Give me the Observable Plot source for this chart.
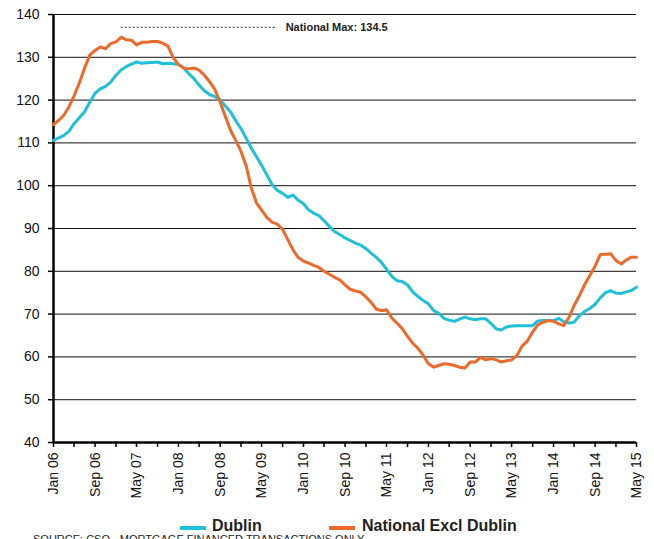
<!DOCTYPE html>
<html>
<head>
<meta charset="utf-8">
<script src="https://cdn.jsdelivr.net/npm/d3@7"></script>
<script src="https://cdn.jsdelivr.net/npm/@observablehq/plot@0.6"></script>
<style>
  html, body { margin: 0; padding: 0; background: #fff; overflow: hidden; }
  #wrap { position: relative; width: 654px; height: 539px; font-family: "Liberation Sans", Arial, sans-serif; }
  #chart { position: absolute; left: 0; top: 0; }
  .leg { position: absolute; top: 517px; font-weight: bold; font-size: 16px; color: #222; white-space: nowrap; }
  .sw { position: absolute; height: 4px; top: 526px; }
  #src { position: absolute; left: 33px; top: 533px; font-size: 11px; color: #222; white-space: nowrap; }
</style>
</head>
<body>
<div id="wrap">
  <div id="chart"></div>
  <div class="sw" id="sw1" style="left:180px;width:26px;"></div>
  <div class="leg" style="left:212px;" id="lg1"></div>
  <div class="sw" id="sw2" style="left:329px;width:26px;"></div>
  <div class="leg" style="left:362px;" id="lg2"></div>
  <div id="src">SOURCE: CSO - MORTGAGE FINANCED TRANSACTIONS ONLY</div>
</div>
<script>
// ---- data (monthly, Jan 2006 .. May 2015) ----
const startYear = 2006;
const seriesNames = ["Dublin", "National Excl Dublin"];
const seriesColors = ["#1ec0da", "#ee6a2b"];

const dublin = [
  110.6,111.2,111.7,112.7,114.5,115.9,117.2,119.5,121.6,122.6,123.2,124.2,
  125.8,127.1,127.8,128.4,128.9,128.6,128.7,128.8,128.9,128.5,128.6,128.5,
  128.3,127.5,126.2,125.0,123.5,122.2,121.3,120.8,120.1,118.6,117.2,115.2,
  113.3,111.0,108.8,106.8,104.8,102.5,100.3,98.9,98.2,97.3,97.8,96.6,
  95.8,94.3,93.6,93.0,91.8,90.5,89.3,88.6,87.8,87.2,86.6,86.1,
  85.3,84.2,83.3,82.1,80.5,78.8,77.8,77.6,76.8,75.2,74.1,73.2,
  72.4,70.8,70.2,69.0,68.6,68.3,68.8,69.3,68.9,68.7,68.9,68.9,
  67.8,66.5,66.3,67.0,67.2,67.3,67.3,67.3,67.3,68.4,68.5,68.5,
  68.5,69.0,68.2,67.9,68.1,69.6,70.6,71.3,72.3,73.8,75.0,75.5,
  74.9,74.8,75.2,75.5,76.3
];
const nationalExDublin = [
  114.3,115.3,116.4,118.4,121.0,124.0,127.4,130.5,131.6,132.4,132.0,133.2,
  133.6,134.7,134.1,134.0,132.9,133.5,133.5,133.7,133.7,133.3,132.6,130.0,
  128.3,127.5,127.3,127.5,127.0,125.8,124.3,122.5,119.5,116.2,112.9,110.6,
  108.0,104.5,99.6,96.0,94.3,92.6,91.5,91.0,89.8,87.4,85.0,83.2,
  82.4,81.9,81.4,80.9,80.0,79.3,78.6,78.0,76.8,75.8,75.4,75.1,
  74.0,72.7,71.2,70.8,71.0,69.1,67.9,66.6,64.8,63.2,62.0,60.4,
  58.4,57.6,58.0,58.4,58.3,58.0,57.6,57.4,58.8,58.8,59.9,59.3,
  59.6,59.3,58.8,59.1,59.3,60.3,62.5,63.7,65.8,67.5,68.1,68.5,
  68.3,67.7,67.3,69.2,72.0,74.3,76.8,79.0,81.2,83.9,84.0,84.1,
  82.5,81.7,82.6,83.3,83.3
];
const yTicks = [40,50,60,70,80,90,100,110,120,130,140];
const monthNames = ["Jan","Feb","Mar","Apr","May","Jun","Jul","Aug","Sep","Oct","Nov","Dec"];
const nationalMaxLabel = "National Max: 134.5";

// ---- build table ----
const dateOf = i => new Date(Date.UTC(startYear, i, 1));
const rows = [];
dublin.forEach((v, i) => rows.push({date: dateOf(i), value: v, series: seriesNames[0]}));
nationalExDublin.forEach((v, i) => rows.push({date: dateOf(i), value: v, series: seriesNames[1]}));
const n = dublin.length;
const tickDates = d3.range(0, n, 4).map(dateOf);
const labelDates = d3.range(0, n, 8).map(dateOf);
const fmt = d => monthNames[d.getUTCMonth()] + " " + String(d.getUTCFullYear() % 100).padStart(2, "0");

const chart = Plot.plot({
  width: 654,
  height: 505,
  marginLeft: 53,
  marginRight: 18,
  marginTop: 14,
  marginBottom: 63,
  style: {fontFamily: "'Liberation Sans', Arial, sans-serif", fontSize: "13px", color: "#111", background: "#fff"},
  x: {type: "utc", domain: [dateOf(0), dateOf(n - 1)]},
  y: {domain: [40, 140]},
  color: {domain: seriesNames, range: seriesColors},
  marks: [
    Plot.ruleY(yTicks.slice(1), {stroke: "#111", strokeWidth: 1}),
    Plot.axisY({ticks: yTicks, tickSize: 5, tickPadding: 9, tickFormat: d => String(d), label: null, stroke: "#000", strokeWidth: 1.5, fontSize: 14}),
    Plot.axisX({ticks: tickDates, tickSize: 5, tickFormat: () => "", label: null, stroke: "#000", strokeWidth: 1.5}),
    Plot.axisX({ticks: labelDates, tickSize: 0, tickPadding: 10, tickRotate: -90, tickFormat: fmt, label: null, fontSize: 14}),
    Plot.ruleX([dateOf(0)], {stroke: "#000", strokeWidth: 2.5}),
    Plot.ruleY([40], {stroke: "#000", strokeWidth: 2.5}),
    Plot.ruleY([137], {x1: dateOf(13), x2: dateOf(43.5), stroke: "#333", strokeWidth: 1, strokeDasharray: "2,2"}),
    Plot.text([nationalMaxLabel], {x: dateOf(44), y: 137, text: d => d, textAnchor: "start", dx: 3, fontWeight: "bold", fontSize: 11, fill: "#222"}),
    Plot.line(rows, {x: "date", y: "value", z: "series", stroke: "series", strokeWidth: 3, strokeLinejoin: "round"})
  ]
});
document.getElementById("chart").appendChild(chart);
document.getElementById("sw1").style.background = seriesColors[0];
document.getElementById("sw2").style.background = seriesColors[1];
document.getElementById("lg1").textContent = seriesNames[0];
document.getElementById("lg2").textContent = seriesNames[1];
</script>
</body>
</html>
